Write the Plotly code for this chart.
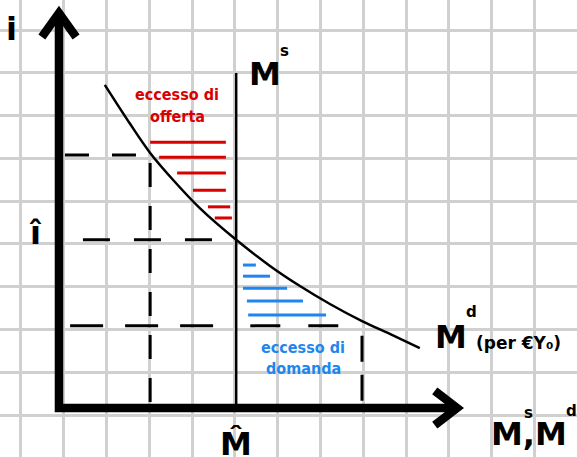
import plotly.graph_objects as go

# Money market: demand for money M^d (for a given income Y0) against a fixed supply M^s.
# One unit on each axis equals one square of the squared-paper background.

# Money demand schedule, read as (money, interest rate) pairs
md_money = [1.07, 1.66, 2.13, 2.71, 3.29, 4.14, 4.93, 5.63, 6.33, 7.08, 7.73, 8.43]
md_rate = [7.55, 6.64, 5.96, 5.28, 4.67, 3.93, 3.32, 2.85, 2.43, 2.03, 1.73, 1.40]

# Fixed money supply and equilibrium
ms_money = 4.14      # M hat
ms_top = 7.83        # top end of the M^s line
i_eq = 3.93          # i hat

# Interest rate above and below equilibrium, with the demand at those rates
i_high, m_high = 5.91, 2.13
i_low, m_low = 1.92, 7.08

# Excess supply hatching (rate, start, end)
xs_rate = [6.21, 5.86, 5.49, 5.09, 4.70, 4.44]
xs_start = [2.13, 2.34, 2.76, 3.13, 3.48, 3.64]
xs_end = [3.90, 3.90, 3.90, 3.90, 4.00, 4.04]

# Excess demand hatching (rate, start, end)
xd_rate = [3.34, 3.08, 2.80, 2.50, 2.17]
xd_start = [4.30, 4.30, 4.30, 4.39, 4.42]
xd_end = [4.60, 4.93, 5.33, 5.70, 6.24]

# Axis arrow ends
y_axis_top = 9.23
x_axis_end = 9.30

RED = "#d90000"
BLUE = "#1f86ee"
BLACK = "#000000"
GRID = "#d0d0d0"
LABEL_FONT = "DejaVu Sans"
NOTE_FONT = "DejaVu Sans Condensed, DejaVu Sans"

fig = go.Figure()


def seg(x, y, color=BLACK, width=3.0, dash="solid", shape="linear"):
    fig.add_trace(go.Scatter(
        x=x, y=y, mode="lines", hoverinfo="skip", showlegend=False,
        line=dict(color=color, width=width, dash=dash, shape=shape, smoothing=1.0),
    ))


# Hatching for excess supply and excess demand
for r, a, b in zip(xs_rate, xs_start, xs_end):
    seg([a, b], [r, r], color=RED, width=3)
for r, a, b in zip(xd_rate, xd_start, xd_end):
    seg([a, b], [r, r], color=BLUE, width=3)

# Dashed guide lines
seg([0.14, m_high], [i_high, i_high], dash="24px,23px")
seg([m_high, m_high], [0.14, i_high], dash="24px,19px")
seg([0.56, ms_money], [i_eq, i_eq], dash="27px,24px")
seg([0.26, ms_money], [i_low, i_low], dash="33px,22px")
seg([ms_money + 0.33, m_low], [i_low, i_low], dash="30px,28px")
seg([m_low, m_low], [i_low - 0.23, 0], dash="26px,13px")

# Money supply (vertical) and money demand curve
seg([ms_money, ms_money], [0, ms_top], width=2.5)
seg(md_money, md_rate, width=2.5, shape="spline")

# Axes with arrow heads
seg([0, 0, x_axis_end], [y_axis_top, 0, 0], width=8.5)
seg([-0.40, 0, 0.40], [y_axis_top - 0.56, y_axis_top, y_axis_top - 0.56], width=8.5)
seg([x_axis_end - 0.52, x_axis_end, x_axis_end - 0.52], [0.40, 0, -0.40], width=8.5)


def label(x, y, text, size, color=BLACK, family=LABEL_FONT, xanchor="center", yanchor="middle"):
    fig.add_annotation(
        x=x, y=y, text=text, showarrow=False, xref="x", yref="y",
        xanchor=xanchor, yanchor=yanchor,
        font=dict(family=family, size=size, color=color, weight="bold"),
    )


# Axis names
label(-1.10, 8.85, "i", 32)
label(-0.56, 4.10, "i\u0302", 32)
label(ms_money, -0.84, "M\u0302", 32)
label(10.99, -0.60, "M,M", 32)
label(10.96, -0.12, "s", 15)
label(11.98, -0.08, "d", 15)

# Curve names
label(4.81, 7.80, "M", 32)
label(5.28, 8.35, "s", 15)
label(9.16, 1.67, "M", 32)
label(9.64, 2.24, "d", 15)
label(9.70, 1.52, "(per €Y\u2080)", 17, xanchor="left")

# Excess supply / excess demand notes
label(2.76, 7.33, "eccesso di", 16, color=RED, family=NOTE_FONT)
label(2.76, 6.80, "offerta", 16, color=RED, family=NOTE_FONT)
label(5.71, 1.42, "eccesso di", 16, color=BLUE, family=NOTE_FONT)
label(5.71, 0.92, "domanda", 16, color=BLUE, family=NOTE_FONT)

axis_common = dict(
    showticklabels=False, ticks="", zeroline=False, showline=False,
    showgrid=True, gridcolor=GRID, gridwidth=2.5, dtick=1, fixedrange=True,
)
fig.update_layout(
    width=577, height=457,
    margin=dict(l=0, r=0, t=0, b=0),
    paper_bgcolor="white", plot_bgcolor="white",
    xaxis=dict(range=[-1.378, 12.103], tick0=0.112, **axis_common),
    yaxis=dict(range=[-1.145, 9.533], tick0=-0.168, **axis_common),
)

fig.write_html("out.html")
